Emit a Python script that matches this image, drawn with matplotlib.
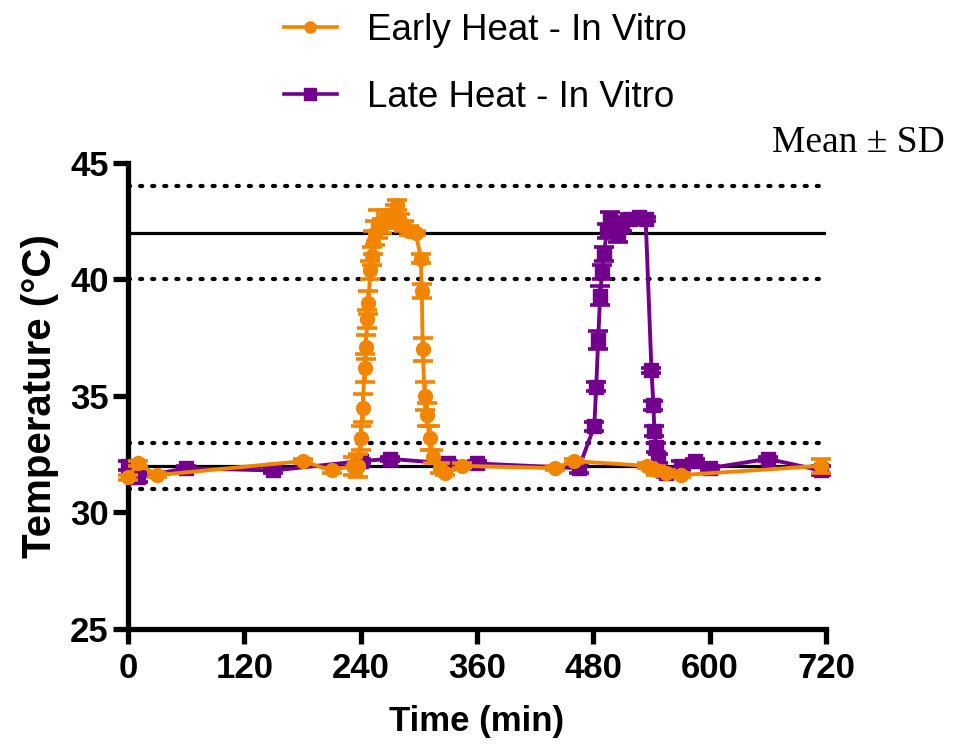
import matplotlib.pyplot as plt

# Early heat (orange) - time (min), mean temperature, SD
t_early = [0, 10, 30, 180, 210, 232, 237, 240, 242, 244, 245, 247, 248, 250, 252, 253,
           255, 258, 262, 266, 270, 275, 277, 281, 285, 290, 297, 302, 303, 304, 306,
           308, 311, 315, 322, 327, 345, 440, 460, 535, 545, 555, 570, 715]
temp_early = [31.5, 32.1, 31.6, 32.2, 31.8, 32.0, 32.0, 33.2, 34.5, 36.2, 37.1, 38.3, 39.0,
              40.4, 41.0, 41.6, 42.0, 42.4, 42.3, 42.6, 42.5, 42.8, 43.2, 42.5, 42.3, 42.1,
              42.0, 40.9, 39.5, 37.0, 35.0, 34.2, 33.2, 32.4, 31.9, 31.7, 32.0, 31.9, 32.2,
              32.0, 31.8, 31.7, 31.6, 32.0]
sd_early = [0.1, 0.1, 0.1, 0.1, 0.1, 0.4, 0.5, 0.5, 0.6, 0.6, 0.5, 0.4, 0.5,
            0.4, 0.4, 0.5, 0.5, 0.6, 0.3, 0.4, 0.3, 0.4, 0.2, 0.3, 0.2, 0.2,
            0.1, 0.2, 0.3, 0.5, 0.6, 0.5, 0.5, 0.3, 0.2, 0.1, 0.1, 0.1, 0.1,
            0.1, 0.2, 0.1, 0.1, 0.3]

# Late heat (purple)
t_late = [0, 10, 60, 150, 240, 270, 330, 360, 465, 481, 483, 485, 487, 489, 491, 494,
          497, 501, 505, 510, 518, 527, 534, 540, 542, 543, 545, 547, 555, 570, 585, 600,
          660, 715]
temp_late = [32.0, 31.5, 31.9, 31.8, 32.2, 32.3, 32.1, 32.1, 31.9, 33.7, 35.4, 37.4, 39.3,
             40.3, 41.1, 42.1, 42.6, 42.4, 41.9, 42.3, 42.6, 42.7, 42.6, 36.1, 34.6, 33.5,
             32.8, 32.3, 31.7, 32.0, 32.2, 31.9, 32.3, 31.8]
sd_late = [0.2, 0.2, 0.1, 0.1, 0.1, 0.1, 0.1, 0.1, 0.2, 0.2, 0.2, 0.4, 0.4,
           0.3, 0.3, 0.3, 0.3, 0.3, 0.3, 0.2, 0.2, 0.1, 0.1, 0.1, 0.2, 0.2,
           0.2, 0.2, 0.2, 0.2, 0.1, 0.1, 0.1, 0.2]

solid_refs = [42, 32]
dotted_refs = [44, 40, 33, 31]

orange = '#F28500'
purple = '#73008C'

plt.rcParams['font.family'] = ['Liberation Sans', 'DejaVu Sans']

fig = plt.figure(figsize=(9.7, 7.46), dpi=100)
ax = fig.add_axes([0.132, 0.157, 0.7195, 0.6245])

for y in solid_refs:
    ax.axhline(y, color='black', lw=2.3, zorder=1)
for y in dotted_refs:
    ax.axhline(y, color='black', lw=3, linestyle=(0, (0.5, 2.4)), dash_capstyle='round', zorder=1)

ax.errorbar(t_late, temp_late, yerr=sd_late, color=purple, marker='s', markersize=10,
            lw=2.8, elinewidth=2.6, capsize=7, capthick=2.6, zorder=3, clip_on=False)
ax.errorbar(t_early, temp_early, yerr=sd_early, color=orange, marker='o', markersize=10,
            lw=2.8, elinewidth=2.6, capsize=7, capthick=2.6, zorder=4, clip_on=False)

ax.set_xlim(0, 720)
ax.set_ylim(25, 45)
ax.set_xticks(range(0, 721, 120))
ax.set_yticks(range(25, 46, 5))
for s in ['top', 'right']:
    ax.spines[s].set_visible(False)
for s in ['left', 'bottom']:
    ax.spines[s].set_linewidth(3.8)
ax.tick_params(axis='both', width=3.8, length=11, labelsize=25)
ax.tick_params(axis='x', pad=6)
ax.tick_params(axis='y', pad=3)
for lab in ax.get_xticklabels() + ax.get_yticklabels():
    lab.set_fontweight('bold')

ax.set_xlabel('Time (min)', fontsize=25, fontweight='bold', labelpad=14)
ax.set_ylabel('Temperature (°C)', fontsize=29, fontweight='bold', labelpad=8)

# legend at top
h_e = plt.Line2D([], [], color=orange, marker='o', lw=2.6, markersize=8)
h_l = plt.Line2D([], [], color=purple, marker='s', lw=2.6, markersize=8)
fig.legend([h_e, h_l], ['Early Heat - In Vitro', 'Late Heat - In Vitro'],
           loc='upper center', bbox_to_anchor=(0.5, 1.027), frameon=False,
           fontsize=26.5, handlelength=1.45, handletextpad=0.8, labelspacing=0.88)

fig.text(0.796, 0.8083, 'Mean ± SD', fontsize=27, family='Liberation Serif', va='center')

fig.savefig('out.png', dpi=100)
